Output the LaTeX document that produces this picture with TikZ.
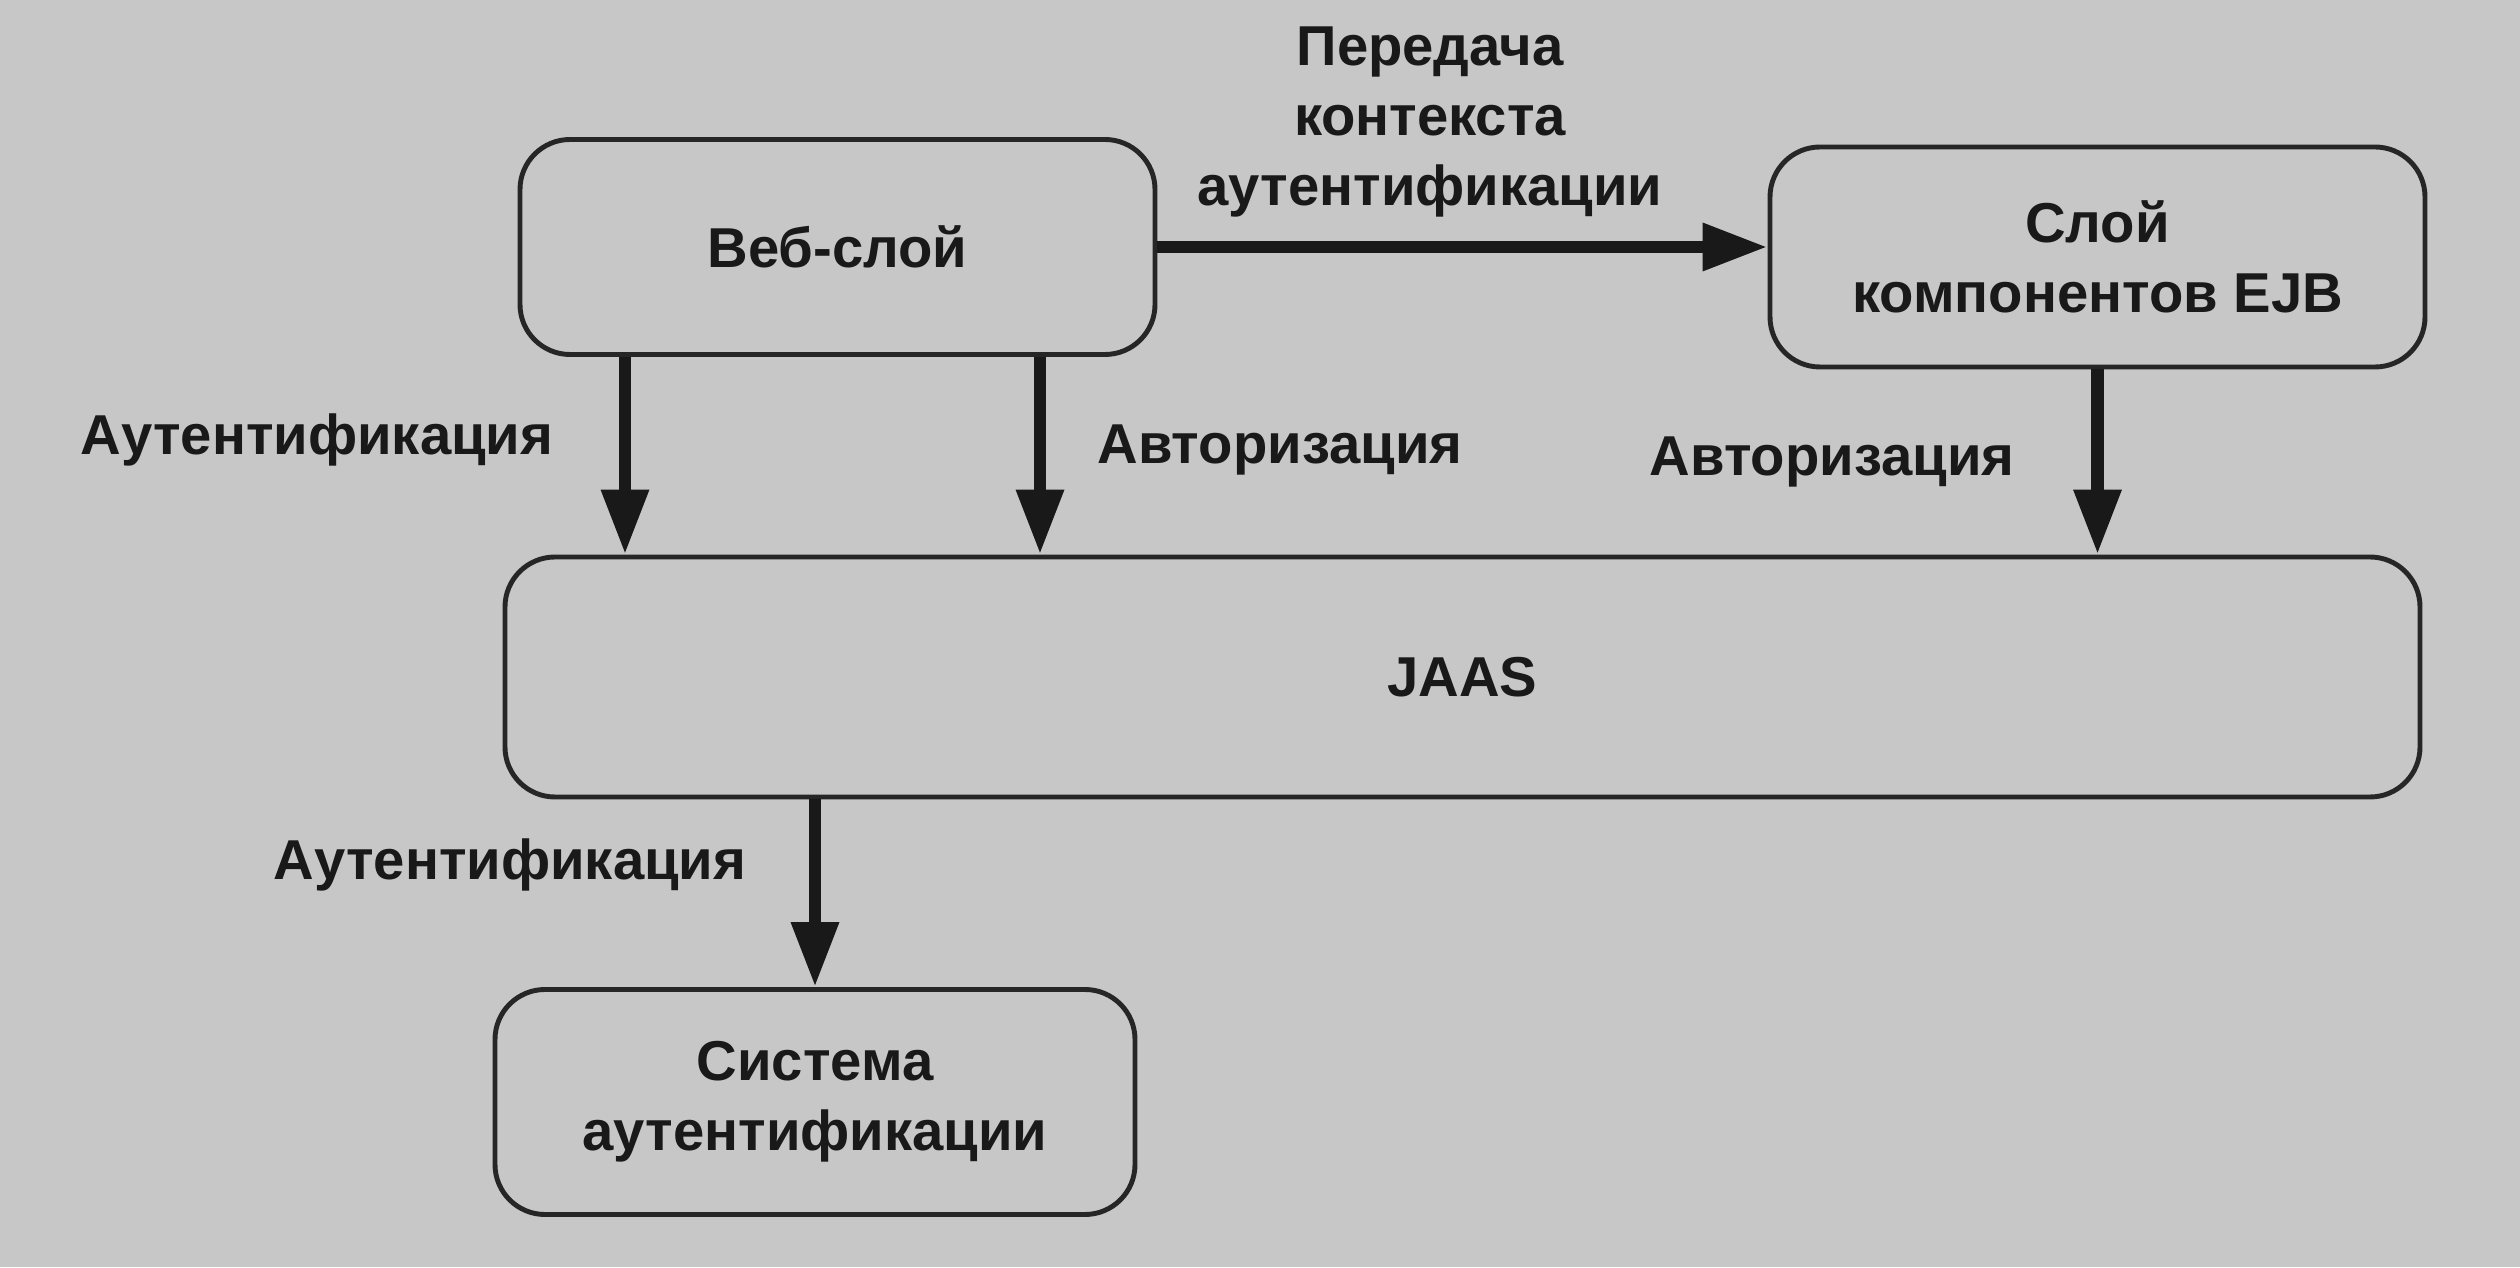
\documentclass[tikz,border=0pt]{standalone}
\usepackage{fontspec}
\setmainfont{Liberation Sans}
\usetikzlibrary{arrows.meta,positioning}

\begin{document}
\begin{tikzpicture}[
    every node/.style={font=\bfseries\fontsize{16}{20}\selectfont, text=black!90},
    layer/.style={draw=black!85, line width=1.4pt, rounded corners=0.5cm, align=center, inner sep=0pt},
    flow/.style={draw=black!90, line width=3.6pt, -{Triangle[length=0.65cm,width=0.45cm]}},
    note/.style={align=center, inner sep=0pt}]

    % Background
    \fill[black!22] (0,0) rectangle (25.2,12.67);
    \useasboundingbox (0,0) rectangle (25.2,12.67);

    % Layers
    \node[layer, minimum width=6.35cm, minimum height=2.15cm] (web) at (8.375,10.2) {Веб-слой};
    \node[layer, minimum width=6.55cm, minimum height=2.2cm] (ejb) at (20.975,10.1) {Слой\\компонентов EJB};
    \node[layer, minimum width=19.15cm, minimum height=2.4cm] (jaas) at (14.625,5.9) {JAAS};
    \node[layer, minimum width=6.4cm, minimum height=2.25cm] (auth) at (8.15,1.65) {Система\\аутентификации};

    % Context passing: web layer to EJB layer
    \draw[flow] (web.east) -- (web.east -| ejb.west);
    \node[note] (ctx) at (14.3,11.45) {Передача\\контекста\\аутентификации};

    % Web layer to JAAS
    \draw[flow] ([xshift=-2.125cm]web.south) -- ([xshift=-2.125cm]web.south |- jaas.north);
    \node[note] (webauthn) at (3.17,8.27) {Аутентификация};
    \draw[flow] ([xshift=2.025cm]web.south) -- ([xshift=2.025cm]web.south |- jaas.north);
    \node[note] (webauthz) at (12.8,8.17) {Авторизация};

    % EJB layer to JAAS
    \draw[flow] (ejb.south) -- (ejb.south |- jaas.north);
    \node[note] (ejbauthz) at (18.32,8.05) {Авторизация};

    % JAAS to authentication system
    \draw[flow] (auth.north |- jaas.south) -- (auth.north);
    \node[note] (jaasauthn) at (5.1,4.02) {Аутентификация};

\end{tikzpicture}
\end{document}
